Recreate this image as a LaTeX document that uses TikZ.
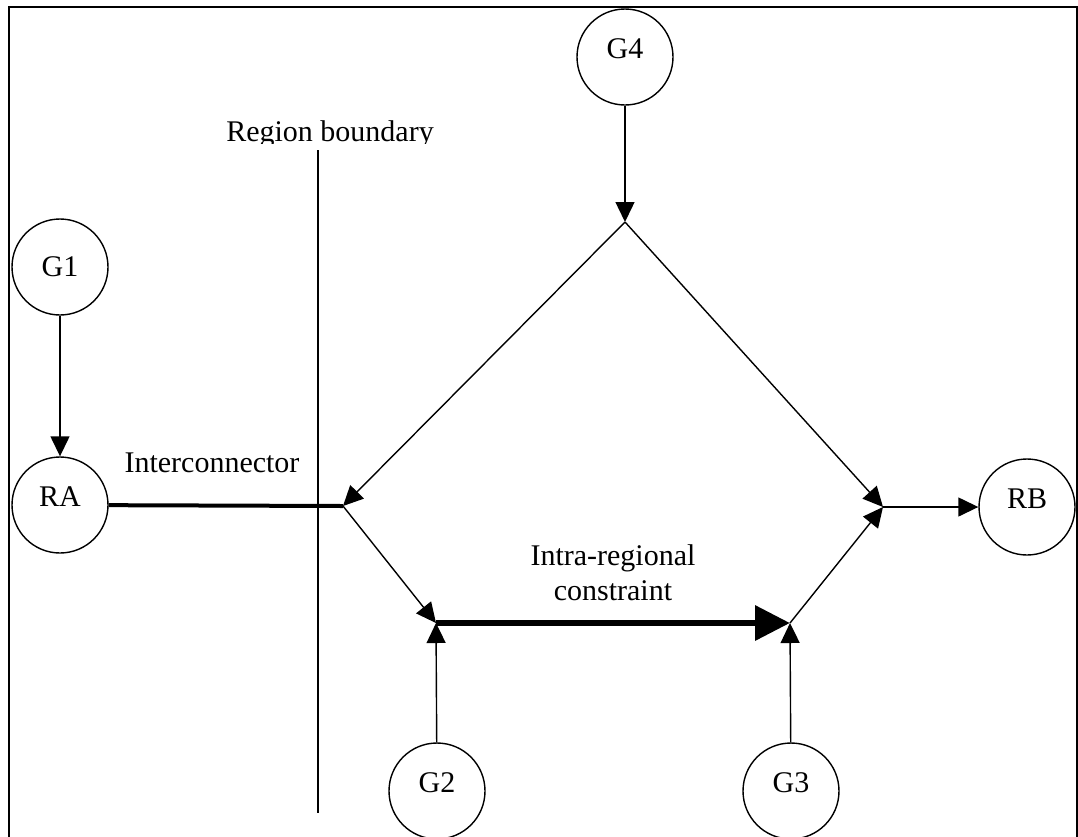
\documentclass[tikz,border=0pt]{standalone}
\usepackage{fontspec}
\setmainfont{Liberation Serif}
\usetikzlibrary{arrows.meta}

\begin{document}
\begin{tikzpicture}[x=1pt, y=-1pt, line width=1.4pt,
	font=\fontsize{30}{35}\selectfont,
	unit/.style={circle, draw, minimum size=96pt, inner sep=0pt,
		text height=20pt, text depth=17pt},
	flow/.style={-{Triangle[length=20pt, width=19pt]}},
	link/.style={line width=4pt},
	intra/.style={line width=6.5pt, -{Triangle[length=35pt, width=34pt]}}]
\useasboundingbox (0,0) rectangle (1078,836);
\begin{scope}
\clip (0,0) rectangle (1078,836);
\draw[line width=2pt] (9,7) rectangle (1077,900);
\end{scope}
% generators and regions
\node[unit] (g4) at (625,57) {G4};
\node[unit, text depth=1pt] (g1) at (60,267) {G1};
\node[unit] (ra) at (60,505) {RA};
\node[unit] (rb) at (1027,507) {RB};
\node[unit] (g2) at (437,791) {G2};
\node[unit] (g3) at (791,791) {G3};
\coordinate (apex) at (625,222);
\coordinate (wj) at (343,506);
\coordinate (ej) at (883,507);
\coordinate (g2j) at (436,623);
\coordinate (g3j) at (790,623);
% region boundary
\draw (318,150) -- (318,813);
\begin{scope}
\clip (0,0) rectangle (1078,143);
\node[anchor=base, inner sep=0pt] (bnd) at (330,141) {Region boundary};
\end{scope}
\draw[link] (ra) -- (wj);
\node[anchor=base, inner sep=0pt] (ic) at (212,472) {Interconnector};
\draw[intra] (g2j) -- (g3j);
\node[align=center, inner sep=0pt] (ir) at (613,573) {Intra-regional\\constraint};
\foreach \a/\b in {g4/apex, g1/ra, apex/wj, apex/ej, wj/g2j, g2/g2j,
	g3/g3j, g3j/ej, ej/rb}
	\draw[flow] (\a) -- (\b);
\end{tikzpicture}
\end{document}
